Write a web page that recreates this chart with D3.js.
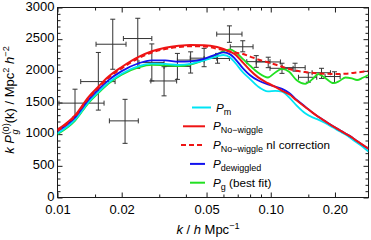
<!DOCTYPE html>
<html>
<head>
<meta charset="utf-8">
<script src="https://cdn.jsdelivr.net/npm/d3@7"></script>
<style>
  body { margin: 0; background: #fff; }
  svg { font-family: "Liberation Sans", Arial, Helvetica, sans-serif; }
</style>
</head>
<body>
<div id="chart"></div>
<script>
/////////////////////////////////////////////////////////
//////////////////////// Data ///////////////////////////
/////////////////////////////////////////////////////////

// measured points (k, k P_g^(0)) with error bars
const kObs   = [0.01208, 0.01554, 0.01816, 0.02074, 0.02379, 0.02769, 0.0316, 0.0365, 0.0421, 0.0487,
                0.0563, 0.0640, 0.0739, 0.0855, 0.0973, 0.1129, 0.130, 0.150, 0.173, 0.199];
const pObs   = [1490, 1830, 2420, 1210, 2510, 2130, 1840, 2070, 2170, 2200,
                2195, 2580, 2380, 2145, 2140, 2040, 2050, 1898, 1970, 1910];
const kObsLo = [0.01016, 0.01285, 0.01516, 0.01751, 0.02037, 0.0241, 0.0274, 0.0316, 0.0365, 0.0419,
                0.0487, 0.0558, 0.0646, 0.0772, 0.0855, 0.0992, 0.1129, 0.1349, 0.1563, 0.1797];
const kObsHi = [0.01653, 0.01862, 0.02096, 0.02393, 0.02769, 0.0316, 0.0362, 0.0419, 0.0487, 0.0558,
                0.0640, 0.0733, 0.0826, 0.0992, 0.1110, 0.1273, 0.145, 0.1643, 0.1905, 0.2115];
const pObsLo = [1275, 1380, 2025, 855, 2040, 1840, 1605, 1865, 1965, 2065,
                2120, 2450, 2300, 2055, 2050, 1960, 1995, 1820, 1880, 1815];
const pObsHi = [1710, 2290, 2815, 1550, 2830, 2425, 2065, 2275, 2300, 2355,
                2275, 2710, 2475, 2240, 2215, 2120, 2120, 1970, 2040, 1985];

// model curves, sampled on a common k grid
const kGrid = [0.01, 0.0121, 0.014, 0.0155, 0.0173, 0.02, 0.024, 0.0277, 0.032, 0.037,
               0.042, 0.0487, 0.056, 0.06, 0.0645, 0.068, 0.0741, 0.08, 0.087, 0.097,
               0.105, 0.113, 0.122, 0.132, 0.145, 0.157, 0.167, 0.178, 0.197, 0.21,
               0.224, 0.24, 0.254, 0.27, 0.287];
const pM        = [1012, 1230, 1510, 1660, 1810, 1955, 2075, 2115, 2110, 2095,
                   2110, 2165, 2230, 2250, 2210, 2130, 1975, 1870, 1755, 1675,
                   1685, 1670, 1580, 1455, 1330, 1265, 1230, 1185, 1100, 1045,
                   995, 925, 865, 800, 725];
const pNoWiggle = [1070, 1300, 1590, 1745, 1905, 2060, 2220, 2310, 2365, 2395,
                   2408, 2405, 2375, 2345, 2300, 2260, 2130, 2010, 1900, 1805,
                   1745, 1685, 1630, 1535, 1430, 1340, 1275, 1215, 1120, 1065,
                   1010, 950, 890, 830, 770];
const pNoWiggleNl = [1055, 1285, 1570, 1725, 1885, 2040, 2200, 2290, 2345, 2375,
                   2388, 2385, 2350, 2330, 2305, 2290, 2265, 2225, 2180, 2135,
                   2100, 2065, 2030, 2000, 1980, 1968, 1960, 1955, 1950, 1950,
                   1955, 1965, 1975, 1985, 1995];
const pDewiggled = [1045, 1265, 1545, 1700, 1850, 1995, 2120, 2165, 2165, 2145,
                   2150, 2190, 2265, 2290, 2260, 2190, 2040, 1930, 1850, 1785,
                   1752, 1715, 1650, 1545, 1435, 1340, 1275, 1215, 1120, 1065,
                   1010, 950, 890, 830, 770];
const pG        = [1000, 1215, 1495, 1645, 1795, 1940, 2055, 2095, 2085, 2075,
                   2100, 2170, 2260, 2310, 2340, 2300, 2185, 2080, 1975, 1895,
                   1975, 2030, 1985, 1855, 1795, 1870, 1950, 1900, 1805, 1840,
                   1895, 1880, 1855, 1890, 1935];

// axis ticks
const xTicks = [0.01, 0.02, 0.05, 0.10, 0.20];
const xMinorTicks = [0.015, 0.03, 0.04, 0.06, 0.07, 0.08, 0.09, 0.15];
const yTicks = [0, 500, 1000, 1500, 2000, 2500, 3000];

/////////////////////////////////////////////////////////
/////////////////////// Setup ///////////////////////////
/////////////////////////////////////////////////////////

const width = 371, height = 240;
const margin = {top: 7.5, right: 2.5, bottom: 42.5, left: 57.5};
const fontSize = 13;
const frameColor = "#1a1a1a";

const x = d3.scaleLog()
  .domain([0.01, 0.2873])
  .range([margin.left, width - margin.right]);
const y = d3.scaleLinear()
  .domain([0, 3000])
  .range([height - margin.bottom, margin.top]);

const svg = d3.select("#chart").append("svg")
  .attr("width", width)
  .attr("height", height);

//clip everything to the frame
svg.append("clipPath").attr("id", "plotClip")
  .append("rect")
  .attr("x", margin.left).attr("y", margin.top)
  .attr("width", width - margin.left - margin.right)
  .attr("height", height - margin.top - margin.bottom);

/////////////////////////////////////////////////////////
//////////////////// Frame & ticks //////////////////////
/////////////////////////////////////////////////////////

function drawAxis(gen, tx, ty, values, size, fmt, pad) {
  const g = svg.append("g")
    .attr("transform", `translate(${tx},${ty})`)
    .call(gen.tickValues(values).tickSizeInner(-size).tickSizeOuter(0)
      .tickPadding(pad).tickFormat(fmt));
  g.attr("font-family", null).attr("font-size", fontSize);
  g.select(".domain").remove();
  g.selectAll("line").attr("stroke", frameColor);
  g.selectAll("text").attr("fill", "#000");
  return g;
}

const yMinorTicks = d3.range(100, 3000, 100).filter(v => v % 500);
const noLabel = () => "";
const x0 = margin.left, x1 = width - margin.right;
const y0 = height - margin.bottom, y1 = margin.top;

drawAxis(d3.axisBottom(x), 0, y0, xTicks, 5, d3.format(".2f"), 7.5);
drawAxis(d3.axisBottom(x), 0, y0, xMinorTicks, 3, noLabel, 0);
drawAxis(d3.axisTop(x), 0, y1, xTicks, 5, noLabel, 0);
drawAxis(d3.axisTop(x), 0, y1, xMinorTicks, 3, noLabel, 0);
drawAxis(d3.axisLeft(y), x0, 0, yTicks, 5, d3.format("d"), 3)
  .selectAll("text").attr("dy", "0.2em");
drawAxis(d3.axisLeft(y), x0, 0, yMinorTicks, 3, noLabel, 0);
drawAxis(d3.axisRight(y), x1, 0, yTicks, 5, noLabel, 0);
drawAxis(d3.axisRight(y), x1, 0, yMinorTicks, 3, noLabel, 0);

svg.append("rect")
  .attr("x", x0).attr("y", y1)
  .attr("width", x1 - x0).attr("height", y0 - y1)
  .attr("fill", "none")
  .attr("stroke", frameColor)
  .attr("stroke-width", 1);

/////////////////////////////////////////////////////////
////////////////////// Error bars ///////////////////////
/////////////////////////////////////////////////////////

const plot = svg.append("g").attr("clip-path", "url(#plotClip)");
const obs = kObs.map((k, i) => ({k, p: pObs[i], kLo: kObsLo[i], kHi: kObsHi[i], pLo: pObsLo[i], pHi: pObsHi[i]}));
const cap = 2.5;

const bars = plot.append("g")
  .attr("stroke", "#333")
  .attr("stroke-width", 1)
  .selectAll("g")
  .data(obs)
  .enter().append("g");

bars.append("line") //horizontal
  .attr("x1", d => x(d.kLo)).attr("x2", d => x(d.kHi))
  .attr("y1", d => y(d.p)).attr("y2", d => y(d.p));
bars.append("line") //vertical
  .attr("x1", d => x(d.k)).attr("x2", d => x(d.k))
  .attr("y1", d => y(d.pLo)).attr("y2", d => y(d.pHi));
//caps
["kLo", "kHi"].forEach(key => {
  bars.append("line")
    .attr("x1", d => x(d[key])).attr("x2", d => x(d[key]))
    .attr("y1", d => y(d.p) - cap).attr("y2", d => y(d.p) + cap);
});
["pLo", "pHi"].forEach(key => {
  bars.append("line")
    .attr("x1", d => x(d.k) - cap).attr("x2", d => x(d.k) + cap)
    .attr("y1", d => y(d[key])).attr("y2", d => y(d[key]));
});

/////////////////////////////////////////////////////////
//////////////////////// Curves /////////////////////////
/////////////////////////////////////////////////////////

const curveLine = d3.line()
  .x(d => x(d[0]))
  .y(d => y(d[1]))
  .curve(d3.curveMonotoneX);

const series = [
  {id: "g",    values: pG,          color: "#22e022", width: 1.8, dash: null},
  {id: "m",    values: pM,          color: "#00e4f4", width: 1.8, dash: null},
  {id: "dew",  values: pDewiggled,  color: "#1212ee", width: 1.8, dash: null},
  {id: "nwnl", values: pNoWiggleNl, color: "#ee1414", width: 2.0, dash: "5,3"},
  {id: "nw",   values: pNoWiggle,   color: "#ee1414", width: 2.0, dash: null}
];

plot.selectAll(".curve")
  .data(series)
  .enter().append("path")
  .attr("class", "curve")
  .attr("d", d => curveLine(d3.zip(kGrid, d.values)))
  .attr("fill", "none")
  .attr("stroke", d => d.color)
  .attr("stroke-width", d => d.width)
  .attr("stroke-dasharray", d => d.dash);

/////////////////////////////////////////////////////////
//////////////////////// Labels /////////////////////////
/////////////////////////////////////////////////////////

function textWidth(str, size, italic) {
  const t = svg.append("text")
    .style("font-size", size + "px")
    .style("font-style", italic ? "italic" : "normal")
    .text(str);
  const w = t.node().getComputedTextLength();
  t.remove();
  return w;
}

//pieces: [text, size, italic, dx, dy]
function richText(sel, pieces) {
  pieces.forEach(([t, size, it, dx, dy]) => {
    sel.append("tspan")
      .style("font-size", size + "px")
      .style("font-style", it ? "italic" : "normal")
      .attr("dx", dx || null)
      .attr("dy", dy || null)
      .text(t);
  });
  return sel;
}

const small = 9.2;
const wSup = textWidth("(0)", small, false), wSub = textWidth("g", small, true);

//y axis title
richText(svg.append("text")
  .attr("text-anchor", "middle")
  .attr("transform", "translate(14,100) rotate(-90)"), [
  ["k", fontSize, true],
  [" ", fontSize, false],
  ["P", fontSize, true],
  ["(0)", small, false, 0.5, -5],
  ["g", small, true, -wSup, 8.5],
  ["(k) / Mpc", fontSize, false, wSup - wSub, -3.5],
  ["2", small, false, 0, -5],
  [" ", fontSize, false, 0, 5],
  ["h", fontSize, true],
  ["\u22122", small, false, 0, -5]
]);

//x axis title
richText(svg.append("text")
  .attr("text-anchor", "middle")
  .attr("x", 208).attr("y", 234), [
  ["k", fontSize, true],
  [" / ", fontSize, false],
  ["h", fontSize, true],
  [" Mpc", fontSize, false],
  ["\u22121", small, false, 0, -5]
]);

/////////////////////////////////////////////////////////
//////////////////////// Legend /////////////////////////
/////////////////////////////////////////////////////////

const legendFont = 11.7, legendSub = 9;
const legend = [
  {color: "#00e4f4", dash: null,  x1: 192, x2: 211, tx: 216, text: [["P", legendFont, true], ["m", legendSub, false, 0, 3]]},
  {color: "#ee1414", dash: null,  x1: 183, x2: 205, tx: 213, text: [["P", legendFont, true], ["No\u2212wiggle", legendSub, false, 0, 3]]},
  {color: "#ee1414", dash: "5,3", x1: 181, x2: 205, tx: 213, text: [["P", legendFont, true], ["No\u2212wiggle", legendSub, false, 0, 3], [" nl correction", legendFont, false, 0, -3]]},
  {color: "#1212ee", dash: null,  x1: 190, x2: 205, tx: 213, text: [["P", legendFont, true], ["dewiggled", legendSub, false, 0, 3]]},
  {color: "#22e022", dash: null,  x1: 190, x2: 205, tx: 213, text: [["P", legendFont, true], ["g", legendSub, false, 0, 3], [" (best fit)", legendFont, false, 0, -3]]}
];

const legendRow = svg.selectAll(".legendRow")
  .data(legend)
  .enter().append("g")
  .attr("class", "legendRow")
  .attr("transform", (d, i) => `translate(0,${107.5 + i * 18.8})`);

legendRow.append("line")
  .attr("x1", d => d.x1).attr("x2", d => d.x2)
  .attr("stroke", d => d.color)
  .attr("stroke-width", 2)
  .attr("stroke-dasharray", d => d.dash);

legendRow.append("text")
  .attr("x", d => d.tx)
  .attr("y", 4)
  .each(function(d) { richText(d3.select(this), d.text); });
</script>
</body>
</html>
